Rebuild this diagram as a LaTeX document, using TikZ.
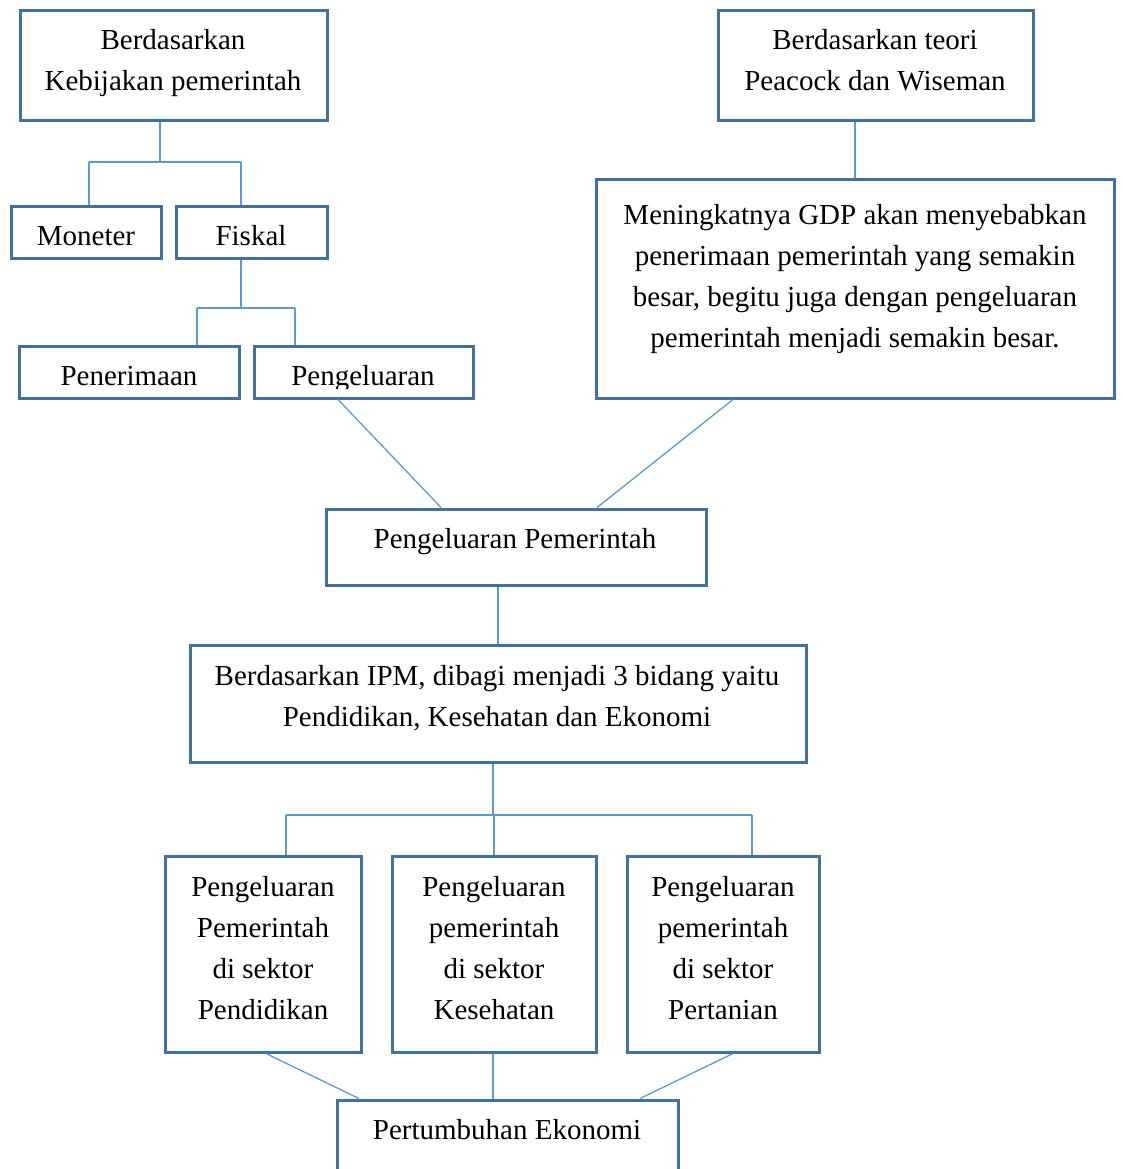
\documentclass[tikz,border=0pt]{standalone}
\usepackage{fontspec}
\setmainfont{Liberation Serif}
\definecolor{boxblue}{RGB}{65,113,156}
\definecolor{linkblue}{RGB}{91,155,213}
\begin{document}
\begin{tikzpicture}[x=0.5pt,y=-0.5pt,
  box/.style={draw=boxblue,line width=1.5pt,inner sep=0pt,fill=white},
  txt/.style={inner sep=0pt,align=center,font=\fontsize{14.5}{20.5}\selectfont},
  conn/.style={draw=linkblue,line width=0.65pt}]
\useasboundingbox (0,0) rectangle (1123,1169);
% boxes
\node[box,minimum width=153.5pt,minimum height=55pt] (b1) at (173.5,65) {};
\node[box,minimum width=157.5pt,minimum height=55pt] (b2) at (875.5,65) {};
\node[box,minimum width=75pt,minimum height=26pt] (mon) at (86,232) {};
\node[box,minimum width=75.5pt,minimum height=26pt] (fis) at (251.5,232) {};
\node[box,minimum width=110pt,minimum height=26pt] (pen) at (129,372) {};
\node[box,minimum width=109.5pt,minimum height=26pt] (pgl) at (363.5,372) {};
\node[box,minimum width=259pt,minimum height=109.5pt] (gdp) at (855,288.5) {};
\node[box,minimum width=190pt,minimum height=38pt] (pp) at (516,547) {};
\node[box,minimum width=308pt,minimum height=58.5pt] (ipm) at (498,703.5) {};
\node[box,minimum width=98pt,minimum height=98pt] (s1) at (263,954) {};
\node[box,minimum width=102pt,minimum height=98pt] (s2) at (494,954) {};
\node[box,minimum width=96pt,minimum height=98pt] (s3) at (723,954) {};
\node[box,minimum width=170.5pt,minimum height=45pt] (pe) at (507.5,1145) {};
% texts
\node[txt] (b1t) at (173,63) {Berdasarkan\\Kebijakan pemerintah};
\node[txt] (b2t) at (875,60.5) {Berdasarkan teori\\Peacock dan Wiseman};
\node[txt] (mont) at (86,236) {Moneter};
\node[txt] (fist) at (251,236) {Fiskal};
\node[txt] (pent) at (129,376) {Penerimaan};
\begin{scope}
\clip (256,348) rectangle (471,388);
\node[txt] (pglt) at (363,379) {Pengeluaran};
\end{scope}
\node[txt] (gdpt) at (855,279.5) {Meningkatnya GDP akan menyebabkan\\penerimaan pemerintah yang semakin\\besar, begitu juga dengan pengeluaran\\pemerintah menjadi semakin besar.};
\node[txt] (ppt) at (515,542) {Pengeluaran Pemerintah};
\node[txt] (ipmt) at (497,698.5) {Berdasarkan IPM, dibagi menjadi 3 bidang yaitu\\Pendidikan, Kesehatan dan Ekonomi};
\node[txt] (s1t) at (263,948) {Pengeluaran\\Pemerintah\\di sektor\\Pendidikan};
\node[txt] (s2t) at (494,948) {Pengeluaran\\pemerintah\\di sektor\\Kesehatan};
\node[txt] (s3t) at (723,948) {Pengeluaran\\pemerintah\\di sektor\\Pertanian};
\node[txt] (pet) at (507,1130) {Pertumbuhan Ekonomi};
% connector coordinates
\coordinate (j1) at (160,162);
\coordinate (m1) at (89,162);
\coordinate (f1) at (241,162);
\coordinate (j2) at (241,308);
\coordinate (p1) at (197,308);
\coordinate (p2) at (295,308);
\coordinate (j3) at (855,150);
\coordinate (xa) at (338,0);
\coordinate (xb) at (441,0);
\coordinate (xc) at (733,0);
\coordinate (xd) at (597,0);
\coordinate (xe) at (498,0);
\coordinate (j4) at (493,815);
\coordinate (q1) at (286,815);
\coordinate (q2) at (494,815);
\coordinate (q3) at (752,815);
\coordinate (xf) at (266,0);
\coordinate (xg) at (359,0);
\coordinate (xh) at (493,0);
\coordinate (xi) at (733,0);
\coordinate (xj) at (640,0);
% connectors
\draw[conn] (j1 |- b1.south) -- (j1);
\draw[conn] (m1) -- (f1);
\draw[conn] (m1) -- (m1 |- mon.north);
\draw[conn] (f1) -- (f1 |- fis.north);
\draw[conn] (j2 |- fis.south) -- (j2);
\draw[conn] (p1) -- (p2);
\draw[conn] (p1) -- (p1 |- pen.north);
\draw[conn] (p2) -- (p2 |- pgl.north);
\draw[conn] (j3 |- b2.south) -- (j3 |- gdp.north);
\draw[conn] (xa |- pgl.south) -- (xb |- pp.north);
\draw[conn] (xc |- gdp.south) -- (xd |- pp.north);
\draw[conn] (xe |- pp.south) -- (xe |- ipm.north);
\draw[conn] (j4 |- ipm.south) -- (j4);
\draw[conn] (q1) -- (q3);
\draw[conn] (q1) -- (q1 |- s1.north);
\draw[conn] (q2) -- (q2 |- s2.north);
\draw[conn] (q3) -- (q3 |- s3.north);
\draw[conn] (xf |- s1.south) -- (xg |- pe.north);
\draw[conn] (xh |- s2.south) -- (xh |- pe.north);
\draw[conn] (xi |- s3.south) -- (xj |- pe.north);
\end{tikzpicture}
\end{document}
